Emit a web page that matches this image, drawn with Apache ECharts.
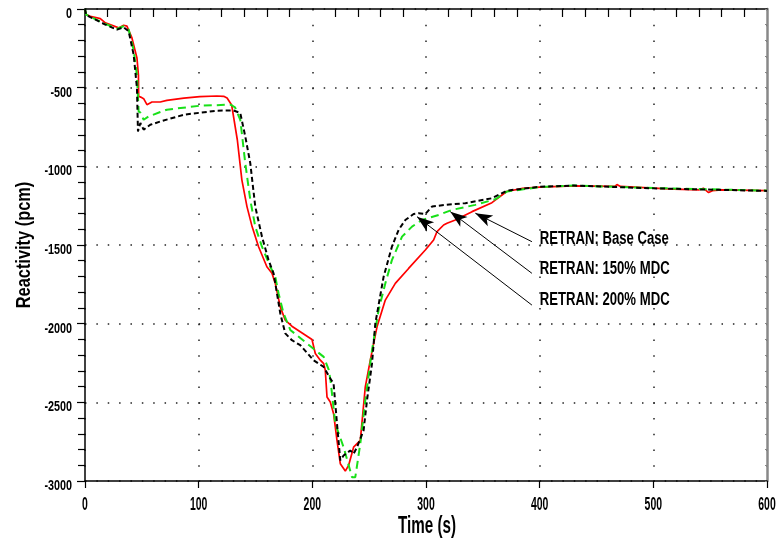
<!DOCTYPE html>
<html>
<head>
<meta charset="utf-8">
<script src="https://cdn.jsdelivr.net/npm/echarts@6/dist/echarts.min.js"></script>
<style>html,body{margin:0;padding:0;background:#fff}#c{width:777px;height:550px}</style>
</head>
<body>
<div id="c"></div>
<script>
// ---- data ----
const baseTime = [0,1,4.7,13.5,17.9,23.8,29.6,34,36.9,41.3,45.7,47,47.2,49,51.6,54.5,58.9,66.2,72,87,101,116,122,125,129,134,138,142.5,147,152.7,160,164.5,167.4,171.8,176.2,182,199.7,202.6,207,210,211.4,212.9,215.8,218.7,221.7,224.6,229,231.9,236.3,242.2,246.6,251,256.9,264.2,273,284.7,299.4,306.7,309.7,315.5,318.5,325.8,340.5,358,371,385,400,430,466,468,471,500,518,540,544,548.6,552,560,600];
const baseReact = [-5,-35,-46,-61,-88,-103,-120,-103,-109,-184,-311,-420,-555,-560,-570,-608,-591,-591,-581,-566,-557,-553,-555,-566,-610,-831,-1086,-1256,-1383,-1511,-1638,-1680,-1744,-1893,-1978,-2016,-2101,-2190,-2232,-2254,-2296,-2466,-2498,-2572,-2742,-2890,-2937,-2901,-2785,-2742,-2402,-2232,-2020,-1850,-1744,-1649,-1532,-1468,-1415,-1373,-1362,-1341,-1288,-1231,-1160,-1140,-1132,-1124,-1127,-1116,-1128,-1138,-1145,-1150,-1139,-1167,-1155,-1150,-1154];

const mdc150Time = [0,1,4.7,17.9,28.2,34,38.4,42.8,45.7,46.6,47.2,49,51.6,56,66.2,72,101,128,132,136.6,141,145.4,149.8,155.7,163,167.4,170.3,174.7,180.6,195.3,210,214.3,216,220.2,227.5,234.9,237.8,242.2,246.6,252.5,258.3,264.2,270,278.9,287.7,296.5,311.1,322.9,343.4,361,371.3,400,430,500,600];
const mdc150React = [0,-35,-50,-95,-125,-110,-130,-260,-420,-560,-651,-660,-704,-683,-655,-640,-615,-608,-625,-704,-980,-1213,-1383,-1511,-1638,-1702,-1808,-1935,-2040,-2126,-2211,-2290,-2360,-2636,-2785,-2976,-2976,-2763,-2487,-2169,-1914,-1744,-1596,-1447,-1383,-1341,-1309,-1277,-1245,-1209,-1160,-1132,-1122,-1138,-1154];

const mdc200Time = [0,1,4.7,17.9,28.2,34,38.4,42.8,45.7,46.6,48.7,51.6,57.4,66.2,87,116,130.7,136.6,141,145.4,149.8,155.7,161.5,165.9,168.9,171.8,176.2,182,189.4,201,210,215.8,218.7,221.7,224.6,227.5,233.4,236.3,239.3,245.1,248.1,252.5,255.4,262.7,270,275.9,281.8,289.1,293.5,299.4,305.3,317,334.6,358,371.3,400,430,500,600];
const mdc200React = [0,-38,-52,-99,-131,-116,-141,-290,-502,-778,-725,-767,-736,-715,-672,-646,-645,-661,-810,-980,-1256,-1447,-1596,-1680,-1808,-1935,-2062,-2105,-2137,-2232,-2275,-2349,-2381,-2636,-2869,-2838,-2806,-2827,-2785,-2678,-2487,-2254,-1999,-1702,-1511,-1404,-1341,-1303,-1298,-1303,-1256,-1245,-1234,-1203,-1154,-1130,-1122,-1140,-1156];

const labelNames = ['RETRAN: Base Case', 'RETRAN: 150% MDC', 'RETRAN: 200% MDC'];
const labelTime = [400.0, 400.0, 400.0];
const labelReact = [-1459, -1653, -1850];
const arrowFromTime = [393.2, 393.2, 393.2];
const arrowFromReact = [-1479, -1680, -1882];
const arrowToTime = [343.4, 321.4, 292.1];
const arrowToReact = [-1298, -1288, -1320];

const xTicks = [0, 100, 200, 300, 400, 500, 600];
const yTicks = [0, -500, -1000, -1500, -2000, -2500, -3000];
const xTitle = 'Time (s)';
const yTitle = 'Reactivity (pcm)';

// ---- build ----
const zip = (a, b) => a.map((v, i) => [v, b[i]]);
const FONT = "'Liberation Sans', Arial, sans-serif";

const chart = echarts.init(document.getElementById('c'), null, {renderer: 'canvas'});

const pxX = 682 / 600, pxY = 472 / 3000;

const option = {
  animation: false,
  backgroundColor: '#fff',
  grid: {left: 85, right: 10, top: 9, bottom: 69, containLabel: false, outerBoundsMode: 'none'},
  xAxis: [
    {
      type: 'value', min: 0, max: 600, interval: 100,
      axisLine: {show: true, onZero: false, lineStyle: {color: '#000', width: 1.5}},
      axisTick: {show: true, inside: false, length: 7, lineStyle: {color: '#000', width: 1.2}},
      axisLabel: {show: false},
      splitLine: {show: true, lineStyle: {color: '#222', width: 1.5, type: [1.5, pxY * 100 - 1.5]}}
    },
    {
      type: 'value', min: 0, max: 600, interval: 100,
      axisLine: {show: false}, axisLabel: {show: false},
      axisTick: {show: false, inside: true},
      minorTick: {show: true, splitNumber: 5, length: 8, lineStyle: {color: '#000', width: 1.2}},
      splitLine: {show: false}
    },
    {
      type: 'value', min: 0, max: 600, position: 'top',
      axisLine: {show: true, onZero: false, lineStyle: {color: '#000', width: 1.5}},
      axisTick: {show: false}, axisLabel: {show: false}, splitLine: {show: false}
    }
  ],
  yAxis: [
    {
      type: 'value', min: -3000, max: 0, interval: 500,
      axisLine: {show: true, onZero: false, lineStyle: {color: '#000', width: 1.5}},
      axisTick: {show: true, inside: false, length: 8, lineStyle: {color: '#000', width: 1.2}},
      axisLabel: {show: false},
      splitLine: {show: true, lineStyle: {color: '#222', width: 1.5, type: [1.5, pxX * 10 - 1.5]}}
    },
    {
      type: 'value', min: -3000, max: 0, interval: 500,
      axisLine: {show: false}, axisLabel: {show: false},
      axisTick: {show: false, inside: true},
      minorTick: {show: true, splitNumber: 5, length: 7, lineStyle: {color: '#000', width: 1.2}},
      splitLine: {show: false}
    },
    {
      type: 'value', min: -3000, max: 0, interval: 100, position: 'right',
      axisLine: {show: true, onZero: false, lineStyle: {color: '#888', width: 2.5}},
      axisTick: {show: true, inside: true, length: 2, lineStyle: {color: '#888', width: 1}},
      axisLabel: {show: false}, splitLine: {show: false}
    }
  ],
  series: [
    {
      name: 'RETRAN: Base Case', type: 'line', data: zip(baseTime, baseReact),
      showSymbol: false, symbol: 'none', z: 3,
      lineStyle: {color: '#ff0000', width: 1.7}
    },
    {
      name: 'RETRAN: 150% MDC', type: 'line', data: zip(mdc150Time, mdc150React),
      showSymbol: false, symbol: 'none', z: 4,
      lineStyle: {color: '#18e018', width: 2, type: [8, 5]}
    },
    {
      name: 'RETRAN: 200% MDC', type: 'line', data: zip(mdc200Time, mdc200React),
      showSymbol: false, symbol: 'none', z: 5,
      lineStyle: {color: '#000', width: 2, type: [5, 3]}
    },
    {
      name: 'arrows', type: 'line', data: [], z: 6, silent: true,
      markLine: {
        silent: true, symbol: ['none', 'arrow'], symbolSize: [9, 17],
        label: {show: false},
        lineStyle: {color: '#000', width: 1, type: 'solid'},
        data: arrowFromTime.map((t, i) => [
          {coord: [t, arrowFromReact[i]]},
          {coord: [arrowToTime[i], arrowToReact[i]]}
        ])
      }
    }
  ]
};
chart.setOption(option);

// ---- text drawn as narrow (horizontally compressed) real text ----
const P = (t, r) => chart.convertToPixel({xAxisIndex: 0, yAxisIndex: 0}, [t, r]);
const txt = (text, x, y, size, sx, align, extra) => Object.assign({
  type: 'text', x: x, y: y, scaleX: sx, silent: true, z: 100,
  style: {text: text, fontFamily: FONT, fontSize: size, fontWeight: 'bold', fill: '#000',
    align: align, verticalAlign: 'middle', textAlign: align, textVerticalAlign: 'middle'}
}, extra || {});

const graphics = [];
xTicks.forEach(v => {
  const p = P(v, -3000);
  graphics.push(txt(String(v), p[0], p[1] + 24, 18, 0.58, 'center'));
});
yTicks.forEach(v => {
  const p = P(0, v);
  graphics.push(txt(String(v), p[0] - 13, Math.max(p[1] + 5, 13), 15, 0.72, 'right'));
});
const c0 = P(300, -3000);
graphics.push(txt(xTitle, c0[0] + 1, c0[1] + 46, 23, 0.66, 'center'));
const c1 = P(0, -1500);
graphics.push(txt(yTitle, c1[0] - 61, c1[1], 21, 0.78, 'center', {rotation: Math.PI / 2}));
labelNames.forEach((n, i) => {
  const p = P(labelTime[i], labelReact[i]);
  graphics.push(txt(n, p[0], p[1], 18, 0.73, 'left'));
});
chart.setOption({graphic: graphics});
</script>
</body>
</html>
